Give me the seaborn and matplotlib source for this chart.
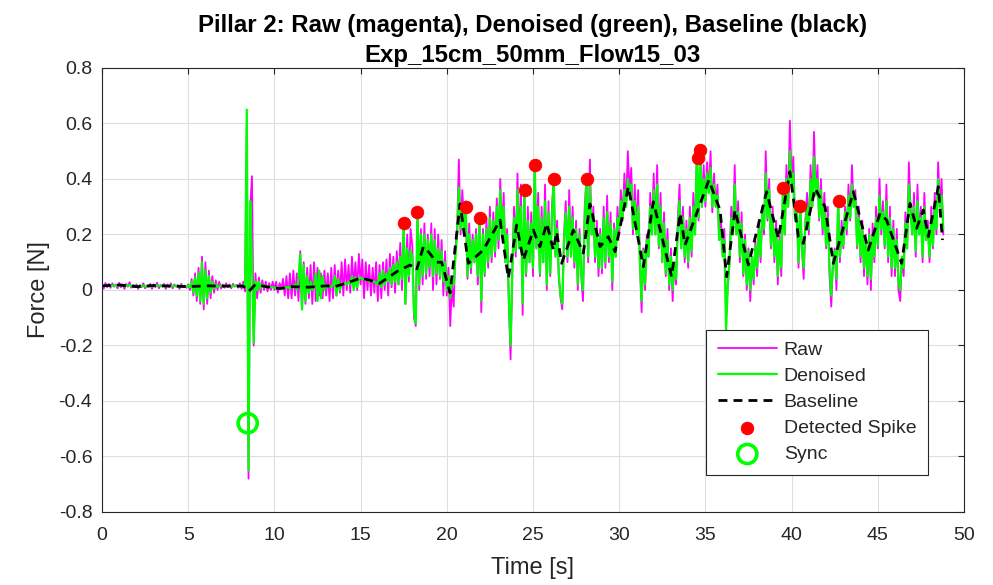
import numpy as np
import pandas as pd
import matplotlib
matplotlib.use("Agg")
import matplotlib.pyplot as plt
import seaborn as sns

# ---------------- data ----------------
raw_rows = [
    [0.02, 0.005, 0.025, 0.01, 0.022, 0.008, 0.024, 0.012, 0.02, 0.006],
    [0.026, 0.01, 0.02, 0.004, 0.022, 0.012, 0.028, 0.008, 0.018, 0.01],
    [0.02, 0.004, 0.018, 0.01, 0.024, 0.006, 0.016, 0.012, 0.022, 0.004],
    [0.02, 0.01, 0.026, 0.006, 0.018, 0.012, 0.022, 0.004, 0.02, 0.01],
    [0.024, 0.006, 0.02, 0.012, 0.018, 0.004, 0.022, 0.01, 0.016, 0.008],
    [0.02, 0.0, 0.04, -0.02, 0.06, -0.04, 0.08, -0.05, 0.12, -0.07],
    [0.1, -0.05, 0.07, -0.03, 0.05, -0.01, 0.035, 0.0, 0.03, 0.005],
    [0.02, 0.008, 0.024, 0.01, 0.02, 0.006, 0.022, 0.012, 0.018, 0.008],
    [0.024, 0.004, 0.03, -0.005, 0.6, -0.68, 0.3, 0.41, -0.2, 0.06],
    [-0.03, 0.045, -0.01, 0.035, 0.0, 0.03, -0.005, 0.025, 0.0, 0.03],
    [0.0, 0.03, -0.01, 0.025, 0.005, 0.04, -0.02, 0.05, -0.03, 0.06],
    [-0.03, 0.07, -0.02, 0.06, -0.04, 0.14, -0.07, 0.1, -0.05, 0.08],
    [-0.03, 0.09, -0.05, 0.1, -0.04, 0.08, -0.02, 0.06, -0.03, 0.07],
    [-0.02, 0.06, -0.04, 0.08, -0.03, 0.09, -0.02, 0.07, -0.01, 0.1],
    [-0.02, 0.11, 0.0, 0.09, -0.01, 0.12, 0.01, 0.1, 0.0, 0.13],
    [0.02, 0.11, -0.03, 0.1, 0.0, 0.09, -0.02, 0.08, -0.01, 0.1],
    [-0.04, 0.09, -0.03, 0.1, 0.0, 0.11, -0.02, 0.13, 0.01, 0.12],
    [-0.01, 0.14, 0.02, 0.17, 0.0, 0.24, -0.05, 0.2, 0.03, 0.22],
    [0.16, -0.1, -0.13, 0.28, 0.0, 0.22, 0.02, 0.24, 0.04, 0.2],
    [0.05, 0.24, 0.0, 0.22, 0.02, 0.2, 0.04, 0.18, -0.02, 0.14],
    [-0.02, 0.08, -0.13, 0.02, -0.06, 0.15, 0.22, 0.47, 0.2, 0.36],
    [0.24, 0.32, 0.04, 0.24, 0.06, 0.2, 0.1, 0.22, 0.02, 0.27],
    [-0.08, 0.22, 0.05, 0.26, 0.08, 0.3, 0.1, 0.28, 0.12, 0.33],
    [0.15, 0.4, 0.2, 0.35, 0.1, 0.22, -0.05, -0.25, 0.08, 0.3],
    [0.12, 0.42, 0.15, 0.38, -0.09, 0.36, 0.05, 0.3, 0.1, 0.28],
    [0.05, 0.45, 0.15, 0.35, 0.05, 0.3, 0.1, 0.38, 0.0, 0.32],
    [0.05, 0.3, 0.4, 0.12, 0.25, 0.04, -0.03, -0.07, 0.2, 0.32],
    [0.1, 0.36, 0.12, 0.3, 0.08, 0.25, 0.0, 0.22, 0.05, -0.04],
    [0.3, 0.4, 0.1, 0.47, 0.2, 0.3, 0.1, 0.25, 0.05, 0.22],
    [0.06, 0.3, 0.08, 0.34, 0.1, 0.28, 0.0, 0.24, 0.12, 0.3],
    [0.2, 0.36, 0.25, 0.42, 0.3, 0.5, 0.35, 0.44, 0.2, 0.38],
    [0.22, 0.36, 0.1, -0.08, 0.15, 0.0, 0.2, 0.12, 0.35, 0.2],
    [0.42, 0.2, 0.45, 0.15, 0.35, 0.1, 0.28, 0.05, 0.22, 0.0],
    [0.15, -0.04, 0.1, 0.02, 0.25, 0.38, 0.15, 0.3, 0.1, 0.25],
    [0.08, 0.3, 0.12, 0.35, 0.2, 0.48, 0.25, 0.5, 0.3, 0.45],
    [0.3, 0.46, 0.35, 0.5, 0.28, 0.42, 0.3, 0.38, 0.18, 0.25],
    [0.15, 0.22, -0.1, 0.02, 0.1, 0.3, 0.2, 0.45, 0.2, 0.32],
    [0.1, 0.28, 0.05, 0.2, 0.0, 0.15, -0.04, 0.12, 0.02, 0.18],
    [0.05, 0.25, 0.1, 0.3, 0.2, 0.5, 0.25, 0.4, 0.15, 0.3],
    [0.1, 0.25, 0.02, 0.2, 0.05, 0.37, 0.2, 0.45, 0.3, 0.61],
    [0.4, 0.48, 0.25, 0.32, 0.08, 0.3, 0.15, 0.04, 0.25, 0.35],
    [0.2, 0.45, 0.3, 0.57, 0.35, 0.45, 0.25, 0.4, 0.2, 0.35],
    [0.15, 0.3, 0.05, -0.06, 0.1, 0.15, 0.0, 0.32, 0.1, 0.25],
    [0.15, 0.3, 0.2, 0.38, 0.25, 0.45, 0.3, 0.36, 0.15, 0.3],
    [0.1, 0.25, 0.05, 0.2, 0.02, 0.22, 0.0, 0.24, 0.1, 0.3],
    [0.15, 0.4, 0.2, 0.32, 0.15, 0.38, 0.1, 0.3, 0.05, 0.25],
    [0.05, 0.22, 0.0, -0.04, 0.12, 0.05, 0.28, 0.15, 0.46, 0.3],
    [0.2, 0.35, 0.12, 0.38, 0.2, 0.3, 0.1, 0.35, 0.18, 0.25],
    [0.1, 0.3, 0.15, 0.35, 0.2, 0.46, 0.3, 0.4, 0.2],
]

denoised_rows = [
    [0.016, 0.014, 0.017, 0.015, 0.016, 0.014, 0.017, 0.015, 0.016, 0.014],
    [0.017, 0.015, 0.018, 0.014, 0.016, 0.015, 0.018, 0.014, 0.016, 0.015],
    [0.014, 0.012, 0.015, 0.013, 0.016, 0.012, 0.014, 0.013, 0.015, 0.012],
    [0.016, 0.014, 0.017, 0.015, 0.016, 0.014, 0.017, 0.013, 0.016, 0.014],
    [0.015, 0.013, 0.016, 0.014, 0.015, 0.012, 0.016, 0.013, 0.014, 0.012],
    [0.015, 0.01, 0.03, -0.01, 0.045, -0.02, 0.06, -0.04, 0.1, -0.05],
    [0.07, -0.03, 0.05, -0.01, 0.03, 0.005, 0.02, 0.01, 0.015, 0.015],
    [0.015, 0.014, 0.016, 0.014, 0.015, 0.013, 0.015, 0.014, 0.015, 0.014],
    [0.015, 0.015, 0.02, 0.01, 0.65, -0.65, 0.32, 0.1, -0.19, 0.03],
    [0.0, 0.03, 0.005, 0.02, 0.01, 0.015, 0.01, 0.012, 0.01, 0.01],
    [0.008, 0.006, 0.01, 0.005, 0.008, 0.006, 0.01, 0.008, 0.012, 0.005],
    [0.015, 0.01, 0.02, 0.0, 0.04, 0.13, -0.07, 0.09, -0.04, 0.05],
    [-0.01, 0.03, 0.0, 0.02, 0.06, -0.04, 0.07, -0.03, 0.05, 0.0],
    [0.02, 0.01, 0.015, 0.01, 0.02, 0.05, -0.02, 0.04, 0.0, 0.02],
    [0.02, 0.025, 0.02, 0.03, 0.02, 0.05, 0.0, 0.045, 0.01, 0.04],
    [0.045, 0.04, 0.04, 0.035, 0.04, 0.03, 0.035, 0.03, 0.03, 0.025],
    [0.02, 0.06, 0.01, 0.07, 0.02, 0.06, 0.03, 0.08, 0.02, 0.09],
    [0.03, 0.1, 0.02, 0.12, 0.04, 0.24, -0.05, 0.15, 0.05, 0.14],
    [0.12, -0.08, -0.12, 0.28, 0.02, 0.2, 0.05, 0.2, 0.06, 0.18],
    [0.08, 0.2, 0.05, 0.18, 0.06, 0.15, 0.05, 0.14, 0.03, 0.1],
    [0.0, 0.05, -0.03, 0.04, 0.02, 0.12, 0.2, 0.37, 0.22, 0.3],
    [0.2, 0.3, 0.05, 0.2, 0.08, 0.18, 0.1, 0.2, 0.05, 0.26],
    [-0.04, 0.2, 0.06, 0.22, 0.1, 0.26, 0.12, 0.25, 0.14, 0.3],
    [0.18, 0.36, 0.2, 0.3, 0.1, 0.2, -0.03, -0.2, 0.06, 0.26],
    [0.14, 0.36, 0.15, 0.3, -0.05, 0.36, 0.06, 0.25, 0.1, 0.24],
    [0.08, 0.45, 0.15, 0.3, 0.06, 0.26, 0.1, 0.32, 0.02, 0.28],
    [0.06, 0.26, 0.4, 0.12, 0.22, 0.05, -0.02, -0.05, 0.18, 0.28],
    [0.12, 0.3, 0.12, 0.26, 0.1, 0.22, 0.02, 0.2, 0.06, 0.0],
    [0.26, 0.4, 0.12, 0.38, 0.2, 0.27, 0.12, 0.22, 0.08, 0.2],
    [0.08, 0.26, 0.1, 0.28, 0.12, 0.24, 0.03, 0.22, 0.12, 0.26],
    [0.22, 0.32, 0.26, 0.36, 0.3, 0.4, 0.34, 0.38, 0.22, 0.32],
    [0.2, 0.3, 0.1, -0.04, 0.14, 0.02, 0.18, 0.12, 0.3, 0.2],
    [0.36, 0.2, 0.38, 0.16, 0.3, 0.1, 0.24, 0.06, 0.18, 0.02],
    [0.12, 0.0, 0.1, 0.04, 0.22, 0.32, 0.15, 0.26, 0.12, 0.22],
    [0.1, 0.26, 0.14, 0.3, 0.2, 0.477, 0.26, 0.505, 0.3, 0.4],
    [0.32, 0.42, 0.35, 0.44, 0.3, 0.38, 0.3, 0.34, 0.18, 0.22],
    [0.12, 0.18, -0.145, 0.02, 0.1, 0.26, 0.2, 0.38, 0.2, 0.28],
    [0.12, 0.24, 0.06, 0.18, 0.02, 0.14, 0.0, 0.12, 0.04, 0.16],
    [0.08, 0.22, 0.12, 0.28, 0.22, 0.42, 0.26, 0.36, 0.16, 0.26],
    [0.12, 0.22, 0.05, 0.18, 0.08, 0.369, 0.2, 0.4, 0.3, 0.5],
    [0.38, 0.42, 0.25, 0.28, 0.1, 0.304, 0.15, 0.08, 0.24, 0.3],
    [0.22, 0.4, 0.3, 0.48, 0.34, 0.4, 0.26, 0.36, 0.22, 0.3],
    [0.16, 0.26, 0.08, -0.02, 0.1, 0.14, 0.04, 0.322, 0.12, 0.22],
    [0.16, 0.28, 0.22, 0.34, 0.26, 0.38, 0.3, 0.32, 0.16, 0.26],
    [0.12, 0.22, 0.08, 0.18, 0.05, 0.2, 0.04, 0.2, 0.12, 0.26],
    [0.16, 0.34, 0.22, 0.28, 0.16, 0.32, 0.12, 0.26, 0.08, 0.22],
    [0.08, 0.18, 0.03, 0.0, 0.12, 0.08, 0.24, 0.15, 0.38, 0.28],
    [0.2, 0.3, 0.14, 0.32, 0.2, 0.26, 0.12, 0.3, 0.18, 0.22],
    [0.12, 0.26, 0.16, 0.3, 0.22, 0.4, 0.3, 0.34, 0.22],
]

baseline_t = [0, 1, 2, 3, 4, 5, 6, 7, 8.2, 8.5, 8.9, 9.5, 10.3, 11, 12, 13, 13.5,
              14.2, 15.0, 15.5, 16.1, 17.1, 17.87, 18.25, 18.64, 19.0, 19.4, 19.7,
              20.19, 20.77, 21.25, 22.12, 23.09, 23.57, 24.05, 24.44, 25.02, 25.4,
              25.8, 26.18, 26.37, 26.66, 27.34, 27.92, 28.3, 28.89, 29.37, 29.76,
              30.53, 31.4, 31.98, 33.04, 33.53, 33.82, 35.2, 35.85, 36.23, 36.72,
              37.49, 38.55, 39.23, 39.9, 40.39, 40.68, 41.36, 41.94, 42.42, 43.58,
              44.45, 45.13, 45.51, 46.38, 46.87, 47.25, 47.64, 47.93, 48.51, 48.75]
baseline_v = [0.015, 0.018, 0.012, 0.016, 0.014, 0.012, 0.015, 0.014, 0.014, -0.006,
              0.02, 0.012, 0.005, 0.012, 0.01, 0.015, 0.012, 0.025, 0.043, 0.036,
              0.024, 0.066, 0.09, 0.072, 0.156, 0.133, 0.10, 0.10, -0.01, 0.31,
              0.096, 0.144, 0.252, 0.042, 0.234, 0.108, 0.216, 0.156, 0.24, 0.144,
              0.21, 0.096, 0.216, 0.133, 0.31, 0.156, 0.192, 0.138, 0.372, 0.084,
              0.318, 0.048, 0.276, 0.162, 0.396, 0.288, 0.048, 0.288, 0.09, 0.354,
              0.186, 0.426, 0.192, 0.168, 0.366, 0.30, 0.096, 0.354, 0.144, 0.276,
              0.252, 0.096, 0.312, 0.222, 0.288, 0.192, 0.372, 0.18]

spike_t = [17.52, 18.27, 21.11, 21.93, 24.54, 25.12, 26.22, 28.13, 34.55, 34.69,
           39.52, 40.49, 42.73]
spike_v = [0.241, 0.281, 0.299, 0.259, 0.36, 0.45, 0.40, 0.40, 0.477, 0.505,
           0.369, 0.304, 0.322]

sync_t = [8.45]
sync_v = [-0.48]

x_ticks = [0, 5, 10, 15, 20, 25, 30, 35, 40, 45, 50]
y_ticks = [-0.8, -0.6, -0.4, -0.2, 0, 0.2, 0.4, 0.6, 0.8]
y_tick_labels = ["-0.8", "-0.6", "-0.4", "-0.2", "0", "0.2", "0.4", "0.6", "0.8"]

raw = [v for row in raw_rows for v in row]
denoised = [v for row in denoised_rows for v in row]
sample_dt = 0.1
time = np.round(np.arange(len(raw)) * sample_dt, 2)

signal_df = pd.DataFrame({"Time": time, "Raw": raw, "Denoised": denoised})
base_df = pd.DataFrame({"Time": baseline_t, "Baseline": baseline_v})
spike_df = pd.DataFrame({"Time": spike_t, "Force": spike_v})
sync_df = pd.DataFrame({"Time": sync_t, "Force": sync_v})

# ---------------- styling ----------------
sns.set_theme(style="white")
plt.rcParams["font.family"] = ["Liberation Sans", "DejaVu Sans"]
plt.rcParams["axes.unicode_minus"] = False

fig = plt.figure(figsize=(9.93, 5.85), dpi=100)
ax = fig.add_axes([0.1027, 0.1248, 0.8681, 0.759])

dark = "#262626"

sns.lineplot(data=signal_df, x="Time", y="Raw", ax=ax, color="#ff00ff",
             linewidth=1.3, estimator=None, sort=False, label="Raw")
sns.lineplot(data=signal_df, x="Time", y="Denoised", ax=ax, color="#00ff00",
             linewidth=1.6, estimator=None, sort=False, label="Denoised")
sns.lineplot(data=base_df, x="Time", y="Baseline", ax=ax, color="black",
             linewidth=2.0, estimator=None, sort=False, label="Baseline")
ax.lines[-1].set_dashes([3.2, 2.2])

sns.scatterplot(data=spike_df, x="Time", y="Force", ax=ax, color="#ff0000",
                edgecolor="#ff0000", s=80, marker="o", label="Detected Spike",
                zorder=5)
sns.scatterplot(data=sync_df, x="Time", y="Force", ax=ax, marker="o", s=190,
                label="Sync", zorder=6)
sync_coll = ax.collections[-1]
sync_coll.set_facecolor("none")
sync_coll.set_edgecolor("#00ff00")
sync_coll.set_linewidth(2.6)

ax.set_xlim(0, 50)
ax.set_ylim(-0.8, 0.8)
ax.set_xticks(x_ticks)
ax.set_yticks(y_ticks)
ax.set_yticklabels(y_tick_labels)

ax.grid(True, color="#dedede", linewidth=0.8)
ax.set_axisbelow(True)
for sp in ax.spines.values():
    sp.set_color(dark)
    sp.set_linewidth(0.8)
    sp.set_visible(True)
ax.tick_params(direction="in", length=4, width=0.8, colors=dark,
               top=True, right=True, labelsize=14)
ax.tick_params(axis="y", pad=7)
ax.tick_params(axis="x", pad=11)

ax.set_xlabel("Time [s]", fontsize=17, color=dark, labelpad=9)
ax.set_ylabel("Force [N]", fontsize=17, color=dark, labelpad=6)
ax.set_title("Pillar 2: Raw (magenta), Denoised (green), Baseline (black)\n"
             "Exp_15cm_50mm_Flow15_03",
             fontsize=17.3, fontweight="bold", color="black", pad=4,
             linespacing=1.4)

leg = ax.legend(loc="upper left", bbox_to_anchor=(0.7007, 0.41), fontsize=14,
                frameon=True, fancybox=False, framealpha=1, edgecolor=dark,
                handlelength=3.05, labelspacing=0.43, borderpad=0.6,
                handletextpad=0.35, scatterpoints=1, borderaxespad=0)
leg.get_frame().set_linewidth(0.8)
for txt in leg.get_texts():
    txt.set_color(dark)

fig.savefig("out.png", dpi=100)
